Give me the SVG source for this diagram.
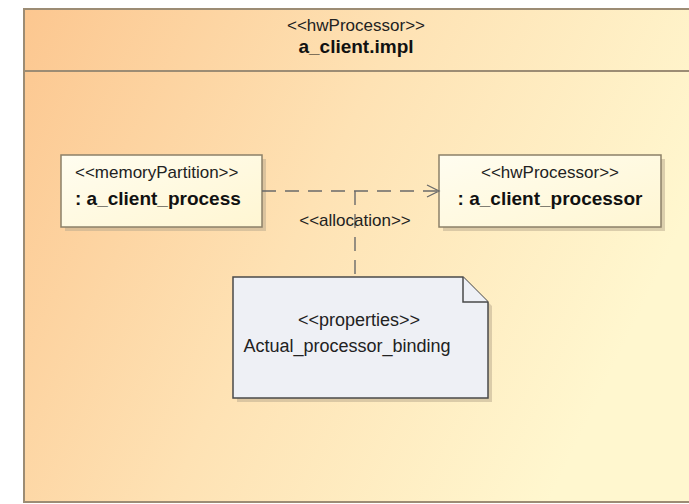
<svg xmlns="http://www.w3.org/2000/svg" width="689" height="504" viewBox="0 0 689 504">
  <defs>
    <linearGradient id="frameFill" x1="0" y1="0" x2="1" y2="0.35">
      <stop offset="0" stop-color="#fcc790"/>
      <stop offset="0.5" stop-color="#fee2b4"/>
      <stop offset="1" stop-color="#fff7cf"/>
    </linearGradient>
    <linearGradient id="partFill" x1="0" y1="0" x2="1" y2="1">
      <stop offset="0" stop-color="#fffdf0"/>
      <stop offset="1" stop-color="#fff6d2"/>
    </linearGradient>
    <marker id="openArrow" markerWidth="16" markerHeight="16" refX="14" refY="8" orient="auto" markerUnits="userSpaceOnUse">
      <path d="M2,2 L14,8 L2,14" fill="none" stroke="#6a6a6a" stroke-width="1.3"/>
    </marker>
  </defs>
  <style>
    .frame { fill: url(#frameFill); stroke: #9c8c74; stroke-width: 2; }
    .divider { stroke: #9c8c74; stroke-width: 2; }
    .part { fill: url(#partFill); stroke: #8c8068; stroke-width: 1.5; }
    .shadow { fill: #b8a88c; opacity: 0.5; }
    .note { fill: #eef0f5; stroke: #4a4a4a; stroke-width: 1.5; }
    .stereo { font-family: "Liberation Sans", Arial, sans-serif; font-size: 17px; fill: #222; }
    .name { font-family: "Liberation Sans", Arial, sans-serif; font-size: 19px; font-weight: bold; fill: #111; }
    .body { font-family: "Liberation Sans", Arial, sans-serif; font-size: 18px; fill: #222; }
    .dep { fill: none; stroke: #6a6a6a; stroke-width: 1.4; stroke-dasharray: 14 9; }
  </style>

  <rect width="689" height="504" fill="#ffffff"/>

  <!-- enclosing hwProcessor frame -->
  <g id="frame-a_client_impl">
    <rect class="frame" x="24" y="9" width="680" height="493"/>
    <line class="divider" x1="24" y1="71" x2="689" y2="71"/>
    <text class="stereo" x="356" y="31" text-anchor="middle">&lt;&lt;hwProcessor&gt;&gt;</text>
    <text class="name" x="356" y="53" text-anchor="middle">a_client.impl</text>
  </g>

  <!-- memory partition part -->
  <g id="node-a_client_process">
    <rect class="shadow" x="65" y="159" width="201" height="72"/>
    <rect class="part" x="61" y="155" width="201" height="72"/>
    <text class="stereo" x="75" y="178">&lt;&lt;memoryPartition&gt;&gt;</text>
    <text class="name" x="75" y="205">: a_client_process</text>
  </g>

  <!-- processor part -->
  <g id="node-a_client_processor">
    <rect class="shadow" x="443" y="159" width="222" height="72"/>
    <rect class="part" x="439" y="155" width="222" height="72"/>
    <text class="stereo" x="550" y="178" text-anchor="middle">&lt;&lt;hwProcessor&gt;&gt;</text>
    <text class="name" x="550" y="205" text-anchor="middle">: a_client_processor</text>
  </g>

  <!-- properties comment -->
  <g id="note-properties">
    <path class="shadow" d="M237,281 H467 L492,306 V402 H237 Z"/>
    <path class="note" d="M233,277 H463 L488,302 V398 H233 Z"/>
    <path class="note" d="M463,277 V302 H488"/>
    <text class="body" x="359" y="326" text-anchor="middle">&lt;&lt;properties&gt;&gt;</text>
    <text class="body" x="347" y="352" text-anchor="middle">Actual_processor_binding</text>
  </g>

  <!-- allocation dependency and its comment link -->
  <g id="connectors">
    <line class="dep" x1="262" y1="191" x2="439" y2="191" marker-end="url(#openArrow)"/>
    <line class="dep" x1="355" y1="191" x2="355" y2="277"/>
    <text class="stereo" x="355" y="226" text-anchor="middle">&lt;&lt;allocation&gt;&gt;</text>
  </g>
</svg>
